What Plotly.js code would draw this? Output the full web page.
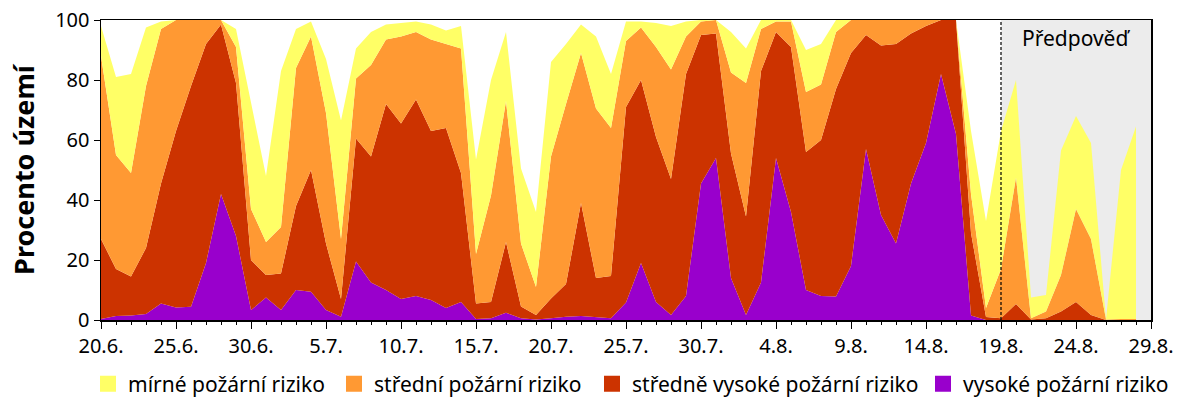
<!DOCTYPE html>
<html>
<head>
<meta charset="utf-8">
<script src="https://cdn.plot.ly/plotly-3.0.1.min.js"></script>
<style>html,body{margin:0;padding:0;background:#fff}#chart{width:1200px;height:400px}</style>
</head>
<body>
<div id="chart"></div>
<script>
// day index 0 = 20.6., last data day 69 = 28.8.
var dayIndex = [];
for (var i = 0; i < 70; i++) dayIndex.push(i);

var tickDays = [0, 5, 10, 15, 20, 25, 30, 35, 40, 45, 50, 55, 60, 65, 70];
var tickLabels = ["20.6.", "25.6.", "30.6.", "5.7.", "10.7.", "15.7.", "20.7.", "25.7.", "30.7.", "4.8.", "9.8.", "14.8.", "19.8.", "24.8.", "29.8."];

var forecastStart = 60; // 19.8.
var forecastEnd = 70;

// percent of territory per risk level
var vysoke = [0.3,1.3,1.5,2,5.5,4.2,4.4,19,42,28,
  3.3,7.5,3.3,10,9.4,3.3,1.1,19.5,12.5,10,
  7,8,6.7,4,6,0.3,0.6,2.4,0.6,0.2,
  0.6,1.1,1.3,0.9,0.6,5.8,19,6,1.7,8,
  45.5,54,14,1.7,12.5,54,36,10,8,7.8,
  18,57,35,25.5,45.5,59,82,62,1.5,0,
  0,0,0,0,0,0,0,0,0,0];
var stredneVysoke = [26.7,15.7,13,22,40,58.8,73.6,73,56.5,51,
  16.7,7.5,12.2,28,40.6,22.2,5.9,41,42,62,
  58.5,65.5,56.3,60,43,5.2,5.4,23.6,3.9,1.5,
  6.6,10.9,37.7,13.1,14.1,65.2,61,55,45.3,74,
  49.5,41.5,41.5,32.8,70.5,42,55,46,52,69.2,
  71,38,56.5,66.5,50,39,18,38,27.5,1,
  0.6,5.3,0.2,0.6,2.8,6,1.7,0,0,0];
var stredni = [61,38,34.5,54,51.5,37,22,8,1.5,12,
  17,11,15.5,46,44.5,43.5,20,20,30.5,21.5,
  29,22.5,30.5,28,41.5,16.5,35.5,47,21,9.3,
  47.3,60,50,56.5,49.3,22,17.5,30,36.5,12.5,
  4.5,4.5,27,44.5,14,3.5,8.5,20,18.5,19,
  11,5,8.5,8,4.5,2,0,0,13,3,
  16.4,42.2,0.4,2.2,12.2,31,25.3,0.2,0.3,0.3];
var mirne = [10,26,33,19.5,2.5,0,0,0,0,6,
  36,22,52,13,5,18,39.5,10,11,5,
  4.5,3.5,5,4.5,7.5,31.5,38.5,23,25,25,
  31.5,20,9.5,24,18,6.5,2,8,14.5,5,
  0.5,0,13.5,11.5,3,0.5,0.5,14,13.5,4,
  0,0,0,0,0,0,0,0,21,29,
  46,32.5,6.9,5.5,41.5,31,32,0,49.7,64.2];

var seriesNames = ["mírné požární riziko", "střední požární riziko", "středně vysoké požární riziko", "vysoké požární riziko"];
var seriesColors = ["#ffff66", "#ff9933", "#cc3300", "#9900cc"];
var seriesValues = [mirne, stredni, stredneVysoke, vysoke];
var legendLeft = [88, 334, 592, 923]; // px, left edge of each legend entry

var FONT = "Noto Sans, Open Sans, DejaVu Sans, sans-serif";
var traces = [];
// stack from bottom (vysoké) to top (mírné)
for (var k = 3; k >= 0; k--) {
  traces.push({
    x: dayIndex, y: seriesValues[k], type: "scatter", mode: "lines",
    stackgroup: "one", line: {width: 0, color: seriesColors[k]},
    fillcolor: seriesColors[k], name: seriesNames[k], showlegend: false,
    hoverinfo: "skip"
  });
}
var layout = {
  width: 1200, height: 400,
  margin: {l: 101, r: 49, t: 20, b: 80},
  paper_bgcolor: "#ffffff", plot_bgcolor: "#ffffff",
  font: {family: FONT, size: 20, color: "#000"},
  showlegend: true,
  xaxis: {
    range: [0, 70], tickmode: "array", tickvals: tickDays, ticktext: tickLabels,
    ticks: "outside", ticklen: 7, tickwidth: 1, tickcolor: "#000",
    showline: true, linecolor: "#000", linewidth: 1.5, mirror: true,
    showgrid: false, zeroline: false, fixedrange: true,
    tickfont: {family: FONT, size: 20, color: "#000"},
    minor: {tickmode: "linear", tick0: 0, dtick: 1, ticks: "outside", ticklen: 3, tickcolor: "#000", showgrid: false}
  },
  yaxis: {
    range: [0, 100], tickvals: [0, 20, 40, 60, 80, 100],
    ticks: "outside", ticklen: 6, tickcolor: "#000",
    showline: true, linecolor: "#000", linewidth: 1.5, mirror: true,
    showgrid: false, zeroline: false, fixedrange: true,
    tickfont: {family: FONT, size: 20, color: "#000"},
    title: {text: "<b>Procento území</b>", font: {family: FONT, size: 27, color: "#000"}, standoff: 12}
  },
  shapes: [
    {type: "rect", xref: "x", yref: "paper", x0: forecastStart, x1: forecastEnd, y0: 0, y1: 1,
     fillcolor: "#ececec", line: {width: 0}, layer: "below"},
    {type: "line", xref: "x", yref: "paper", x0: forecastStart, x1: forecastStart, y0: 0, y1: 1,
     line: {color: "#000", width: 1.2, dash: "3px,2px"}, layer: "above"}
  ],
  annotations: [
    {xref: "x", yref: "paper", x: (forecastStart + forecastEnd) / 2, y: 0.995, yanchor: "top",
     text: "Předpověď", showarrow: false, font: {family: FONT, size: 21, color: "#000"}}
  ]
};
// one legend per series so each entry can sit where the reference puts it
for (var k = 0; k < 4; k++) {
  var key = k === 0 ? "legend" : "legend" + (k + 1);
  traces.push({
    x: [-100], y: [-100], type: "scatter", mode: "markers",
    marker: {symbol: "square", size: 20, color: seriesColors[k]},
    name: seriesNames[k], showlegend: true, hoverinfo: "skip", legend: key
  });
  layout[key] = {
    xref: "container", yref: "container", x: legendLeft[k] / 1200, xanchor: "left",
    y: 16 / 400, yanchor: "middle", orientation: "h", bgcolor: "rgba(0,0,0,0)",
    font: {family: FONT, size: 21, color: "#000"}, itemwidth: 30
  };
}

Plotly.newPlot("chart", traces, layout, {displayModeBar: false, staticPlot: true});
</script>
</body>
</html>
